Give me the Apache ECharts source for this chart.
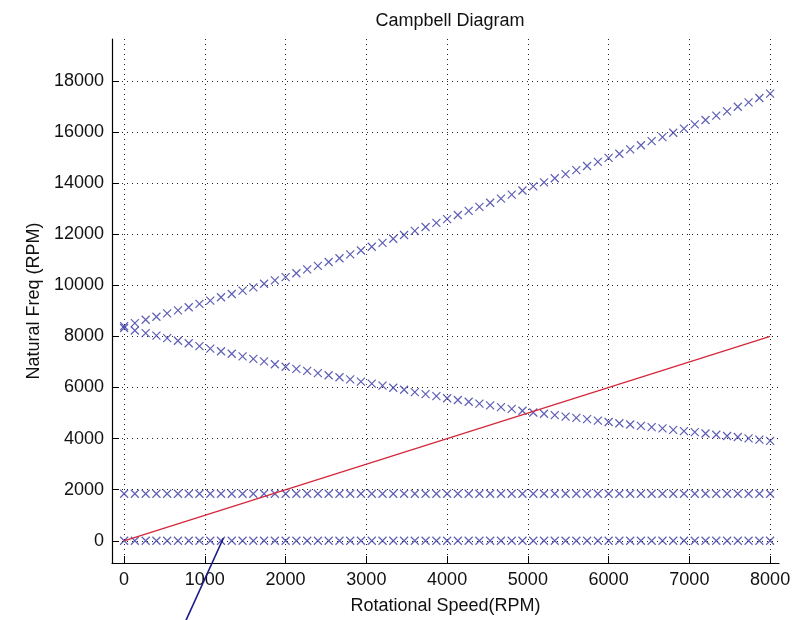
<!DOCTYPE html>
<html>
<head>
<meta charset="utf-8">
<script src="https://cdn.jsdelivr.net/npm/echarts@6/dist/echarts.min.js"></script>
<style>
  html, body { margin: 0; padding: 0; background: #fff; }
  #chart { width: 806px; height: 620px; }
</style>
</head>
<body>
<div id="chart"></div>
<script>
// Rotor speed grid (RPM) at which the natural frequencies were solved
const speeds = [0, 133, 267, 400, 533, 667, 800, 933, 1067, 1200, 1333, 1467, 1600, 1733, 1867,
  2000, 2133, 2267, 2400, 2533, 2667, 2800, 2933, 3067, 3200, 3333, 3467, 3600, 3733, 3867,
  4000, 4133, 4267, 4400, 4533, 4667, 4800, 4933, 5067, 5200, 5333, 5467, 5600, 5733, 5867,
  6000, 6133, 6267, 6400, 6533, 6667, 6800, 6933, 7067, 7200, 7333, 7467, 7600, 7733, 7867, 8000];

// Rigid-body mode
const mode1 = [0, 0, 0, 0, 0, 0, 0, 0, 0, 0, 0, 0, 0, 0, 0,
  0, 0, 0, 0, 0, 0, 0, 0, 0, 0, 0, 0, 0, 0, 0,
  0, 0, 0, 0, 0, 0, 0, 0, 0, 0, 0, 0, 0, 0, 0,
  0, 0, 0, 0, 0, 0, 0, 0, 0, 0, 0, 0, 0, 0, 0, 0];

// First bending mode (speed independent)
const mode2 = [1840, 1840, 1840, 1840, 1840, 1840, 1840, 1840, 1840, 1840, 1840, 1840, 1840, 1840, 1840,
  1840, 1840, 1840, 1840, 1840, 1840, 1840, 1840, 1840, 1840, 1840, 1840, 1840, 1840, 1840,
  1840, 1840, 1840, 1840, 1840, 1840, 1840, 1840, 1840, 1840, 1840, 1840, 1840, 1840, 1840,
  1840, 1840, 1840, 1840, 1840, 1840, 1840, 1840, 1840, 1840, 1840, 1840, 1840, 1840, 1840, 1840];

// Backward whirl branch
const backward = [8330, 8230, 8130, 8030, 7930, 7830, 7730, 7620, 7520, 7420, 7320, 7220, 7120, 7020, 6910,
  6810, 6730, 6650, 6560, 6480, 6400, 6320, 6230, 6150, 6070, 5990, 5910, 5820, 5740, 5660,
  5580, 5510, 5440, 5370, 5300, 5230, 5160, 5090, 5020, 4970, 4920, 4860, 4810, 4760, 4700,
  4650, 4600, 4550, 4500, 4450, 4400, 4340, 4290, 4250, 4200, 4150, 4100, 4060, 4010, 3960, 3910];

// Forward whirl branch
const forward = [8400, 8520, 8650, 8770, 8900, 9020, 9140, 9270, 9400, 9530, 9660, 9790, 9920, 10060, 10190,
  10320, 10470, 10620, 10760, 10910, 11060, 11210, 11360, 11510, 11660, 11820, 11970, 12130, 12280, 12440,
  12590, 12750, 12910, 13070, 13230, 13390, 13550, 13710, 13870, 14030, 14190, 14350, 14510, 14670, 14830,
  14990, 15150, 15320, 15480, 15640, 15800, 15970, 16130, 16300, 16470, 16640, 16810, 16990, 17160, 17330, 17500];

// 1X excitation line (frequency = speed)
const excitationSpeed = [0, 8000];
const excitationFreq = [0, 8000];

// Axis tick values
const xTicks = [0, 1000, 2000, 3000, 4000, 5000, 6000, 7000, 8000];
const yTicks = [0, 2000, 4000, 6000, 8000, 10000, 12000, 14000, 16000, 18000];

// Pointer annotation tip (data coordinates)
const pointerTip = [1230, 110];

const pair = (xs, ys) => xs.map((x, i) => [x, ys[i]]);

const crossSymbol = 'path://M0,0L10,10M10,0L0,10';
const blue = '#3636a4';
const fontFam = '"Liberation Sans", Arial, sans-serif';

function modeSeries(name, ys) {
  return {
    name: name,
    type: 'scatter',
    data: pair(speeds, ys),
    symbol: crossSymbol,
    symbolSize: 8,
    itemStyle: { color: 'none', borderColor: blue, borderWidth: 1.2 },
    silent: true,
    z: 3
  };
}

const chart = echarts.init(document.getElementById('chart'));

const gridLine = { show: true, lineStyle: { color: '#222', width: 1, type: [1, 4] } };
const plainNumber = v => String(v);

chart.setOption({
  animation: false,
  backgroundColor: '#fff',
  title: {
    text: 'Campbell Diagram',
    left: 445,
    top: 7,
    textAlign: 'center',
    textStyle: { fontFamily: fontFam, fontSize: 18, fontWeight: 'normal', color: '#111' }
  },
  grid: { left: 112, right: 27, top: 39, bottom: 56 },
  xAxis: {
    type: 'value',
    min: -150,
    max: 8110,
    name: 'Rotational Speed(RPM)',
    nameLocation: 'middle',
    nameGap: 34,
    nameTextStyle: { fontFamily: fontFam, fontSize: 18, color: '#111' },
    axisLine: { show: true, onZero: false, lineStyle: { color: '#000', width: 1.2 } },
    axisTick: { show: true, inside: true, length: 7, customValues: xTicks, lineStyle: { color: '#000' } },
    axisLabel: { customValues: xTicks, formatter: plainNumber, margin: 8, fontFamily: fontFam, fontSize: 18, color: '#111' },
    splitLine: gridLine
  },
  yAxis: {
    type: 'value',
    min: -870,
    max: 19640,
    name: 'Natural Freq (RPM)',
    nameLocation: 'middle',
    nameGap: 68,
    nameTextStyle: { fontFamily: fontFam, fontSize: 18, color: '#111' },
    axisLine: { show: true, onZero: false, lineStyle: { color: '#000', width: 1.2 } },
    axisTick: { show: true, inside: true, length: 7, customValues: yTicks, lineStyle: { color: '#000' } },
    axisLabel: { customValues: yTicks, formatter: plainNumber, margin: 8, fontFamily: fontFam, fontSize: 18, color: '#111' },
    splitLine: gridLine
  },
  series: [
    modeSeries('Mode 1', mode1),
    modeSeries('Mode 2', mode2),
    modeSeries('Backward', backward),
    modeSeries('Forward', forward),
    {
      name: '1X',
      type: 'line',
      data: pair(excitationSpeed, excitationFreq),
      showSymbol: false,
      lineStyle: { color: '#d4283a', width: 1.3 },
      silent: true,
      z: 4
    }
  ]
});

// Pointer line running from below the axis up to the annotated point
const tip = chart.convertToPixel({ gridIndex: 0 }, pointerTip);
chart.setOption({
  graphic: [{
    type: 'line',
    shape: { x1: tip[0], y1: tip[1], x2: tip[0] - 40, y2: tip[1] + 88 },
    style: { stroke: '#1a1a8c', lineWidth: 1.6 },
    z: 10
  }]
});
</script>
</body>
</html>
